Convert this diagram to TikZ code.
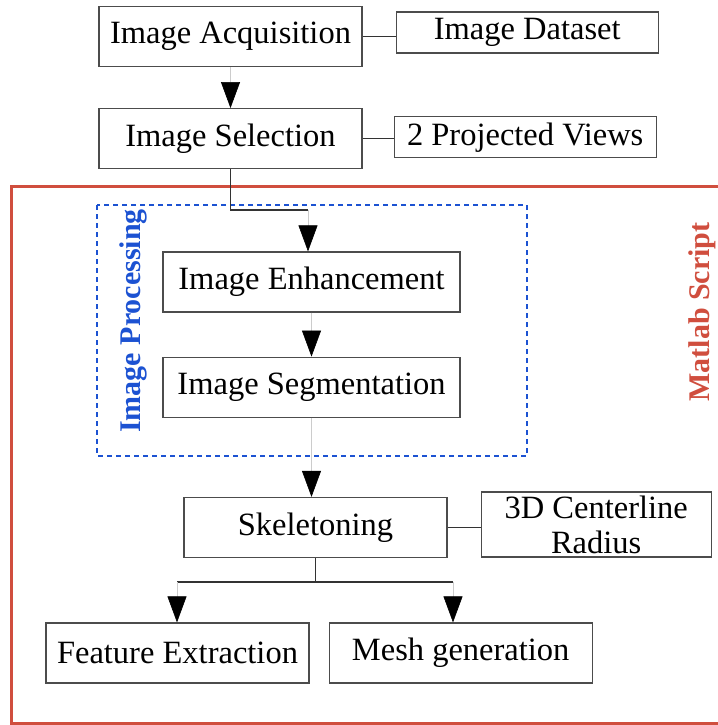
\documentclass[tikz,border=0pt]{standalone}
\usepackage{fontspec}
\setmainfont{Liberation Serif}
\usepackage{xcolor}
\usepackage{tikz}
\usetikzlibrary{arrows.meta,positioning}

\definecolor{scriptred}{RGB}{208,78,62}
\definecolor{procblue}{RGB}{28,82,210}

\begin{document}
\begin{tikzpicture}[x=1pt,y=-1pt,
  font=\fontsize{32.5}{35}\selectfont
]

\tikzstyle{block}=[draw=black!70,line width=1.2pt,rectangle,minimum width=263pt,minimum height=60pt,inner sep=0pt]
\tikzstyle{side}=[draw=black!70,line width=1.2pt,rectangle,minimum width=262pt,minimum height=41pt,inner sep=0pt]
\tikzset{wide block/.style={block,minimum width=297pt}}
\tikzset{arrow style/.style={draw=black!20,line width=0.6pt,-{Triangle[width=19pt,length=26pt,color=black,fill=black]}}}
\tikzset{link style/.style={draw=black!80,line width=1.2pt}}

\useasboundingbox (0,0) rectangle (717,725);

% frames
\draw[scriptred,line width=3pt] (11,186) rectangle (740,723);
\draw[procblue,line width=2.5pt,dash pattern=on 5pt off 4pt] (97,205) rectangle (527,456);

\node[rotate=90,text=procblue,font=\fontsize{30}{34}\selectfont\bfseries] (proclabel) at (133,321) {Image Processing};
\node[rotate=90,text=scriptred,font=\fontsize{30}{34}\selectfont\bfseries] (scriptlabel) at (702,312) {Matlab Script};

% main chain
\node[block]                     (acq)  at (230.5,36.5) {Image Acquisition};
\node[block, below=41pt of acq]  (sel)  {Image Selection};
\node[wide block]                (enh)  at (311.5,282) {Image Enhancement};
\node[wide block, below=44pt of enh] (seg) {Image Segmentation};
\node[block]                     (skel) at (315.5,527.5) {Skeletoning};
\node[block]                     (feat) at (177.5,653) {Feature Extraction};
\node[block, right=19pt of feat] (mesh) {Mesh generation};

% side boxes
\node[side, right=33pt of acq, yshift=4pt]   (dataset) {Image Dataset};
\node[side, right=31pt of sel, yshift=1.5pt] (views)   {2 Projected Views};
\node[side, minimum width=230pt, minimum height=65pt, align=center,
      right=33pt of skel, yshift=3pt]        (centerline) {3D Centerline\\Radius};

\coordinate (split) at (308,210);
\coordinate (fork)  at (315.5,582);
\coordinate (forkL) at (177,582);
\coordinate (forkR) at (453,582);

\draw[link style] (acq.east) -- (acq.east -| dataset.west);
\draw[link style] (sel.east) -- (sel.east -| views.west);
\draw[link style] (skel.east) -- (skel.east -| centerline.west);

\draw[link style] (sel.south) |- (split);
\draw[link style] (skel.south) -- (fork);
\draw[link style] (forkL) -- (forkR);

\draw[arrow style] (acq.south) -- (acq.south |- sel.north);
\draw[arrow style] (split) -- (split |- enh.north);
\draw[arrow style] (enh.south) -- (enh.south |- seg.north);
\draw[arrow style] (seg.south) -- (seg.south |- skel.north);
\draw[arrow style] (forkL) -- (forkL |- feat.north);
\draw[arrow style] (forkR) -- (forkR |- mesh.north);

\end{tikzpicture}
\end{document}
